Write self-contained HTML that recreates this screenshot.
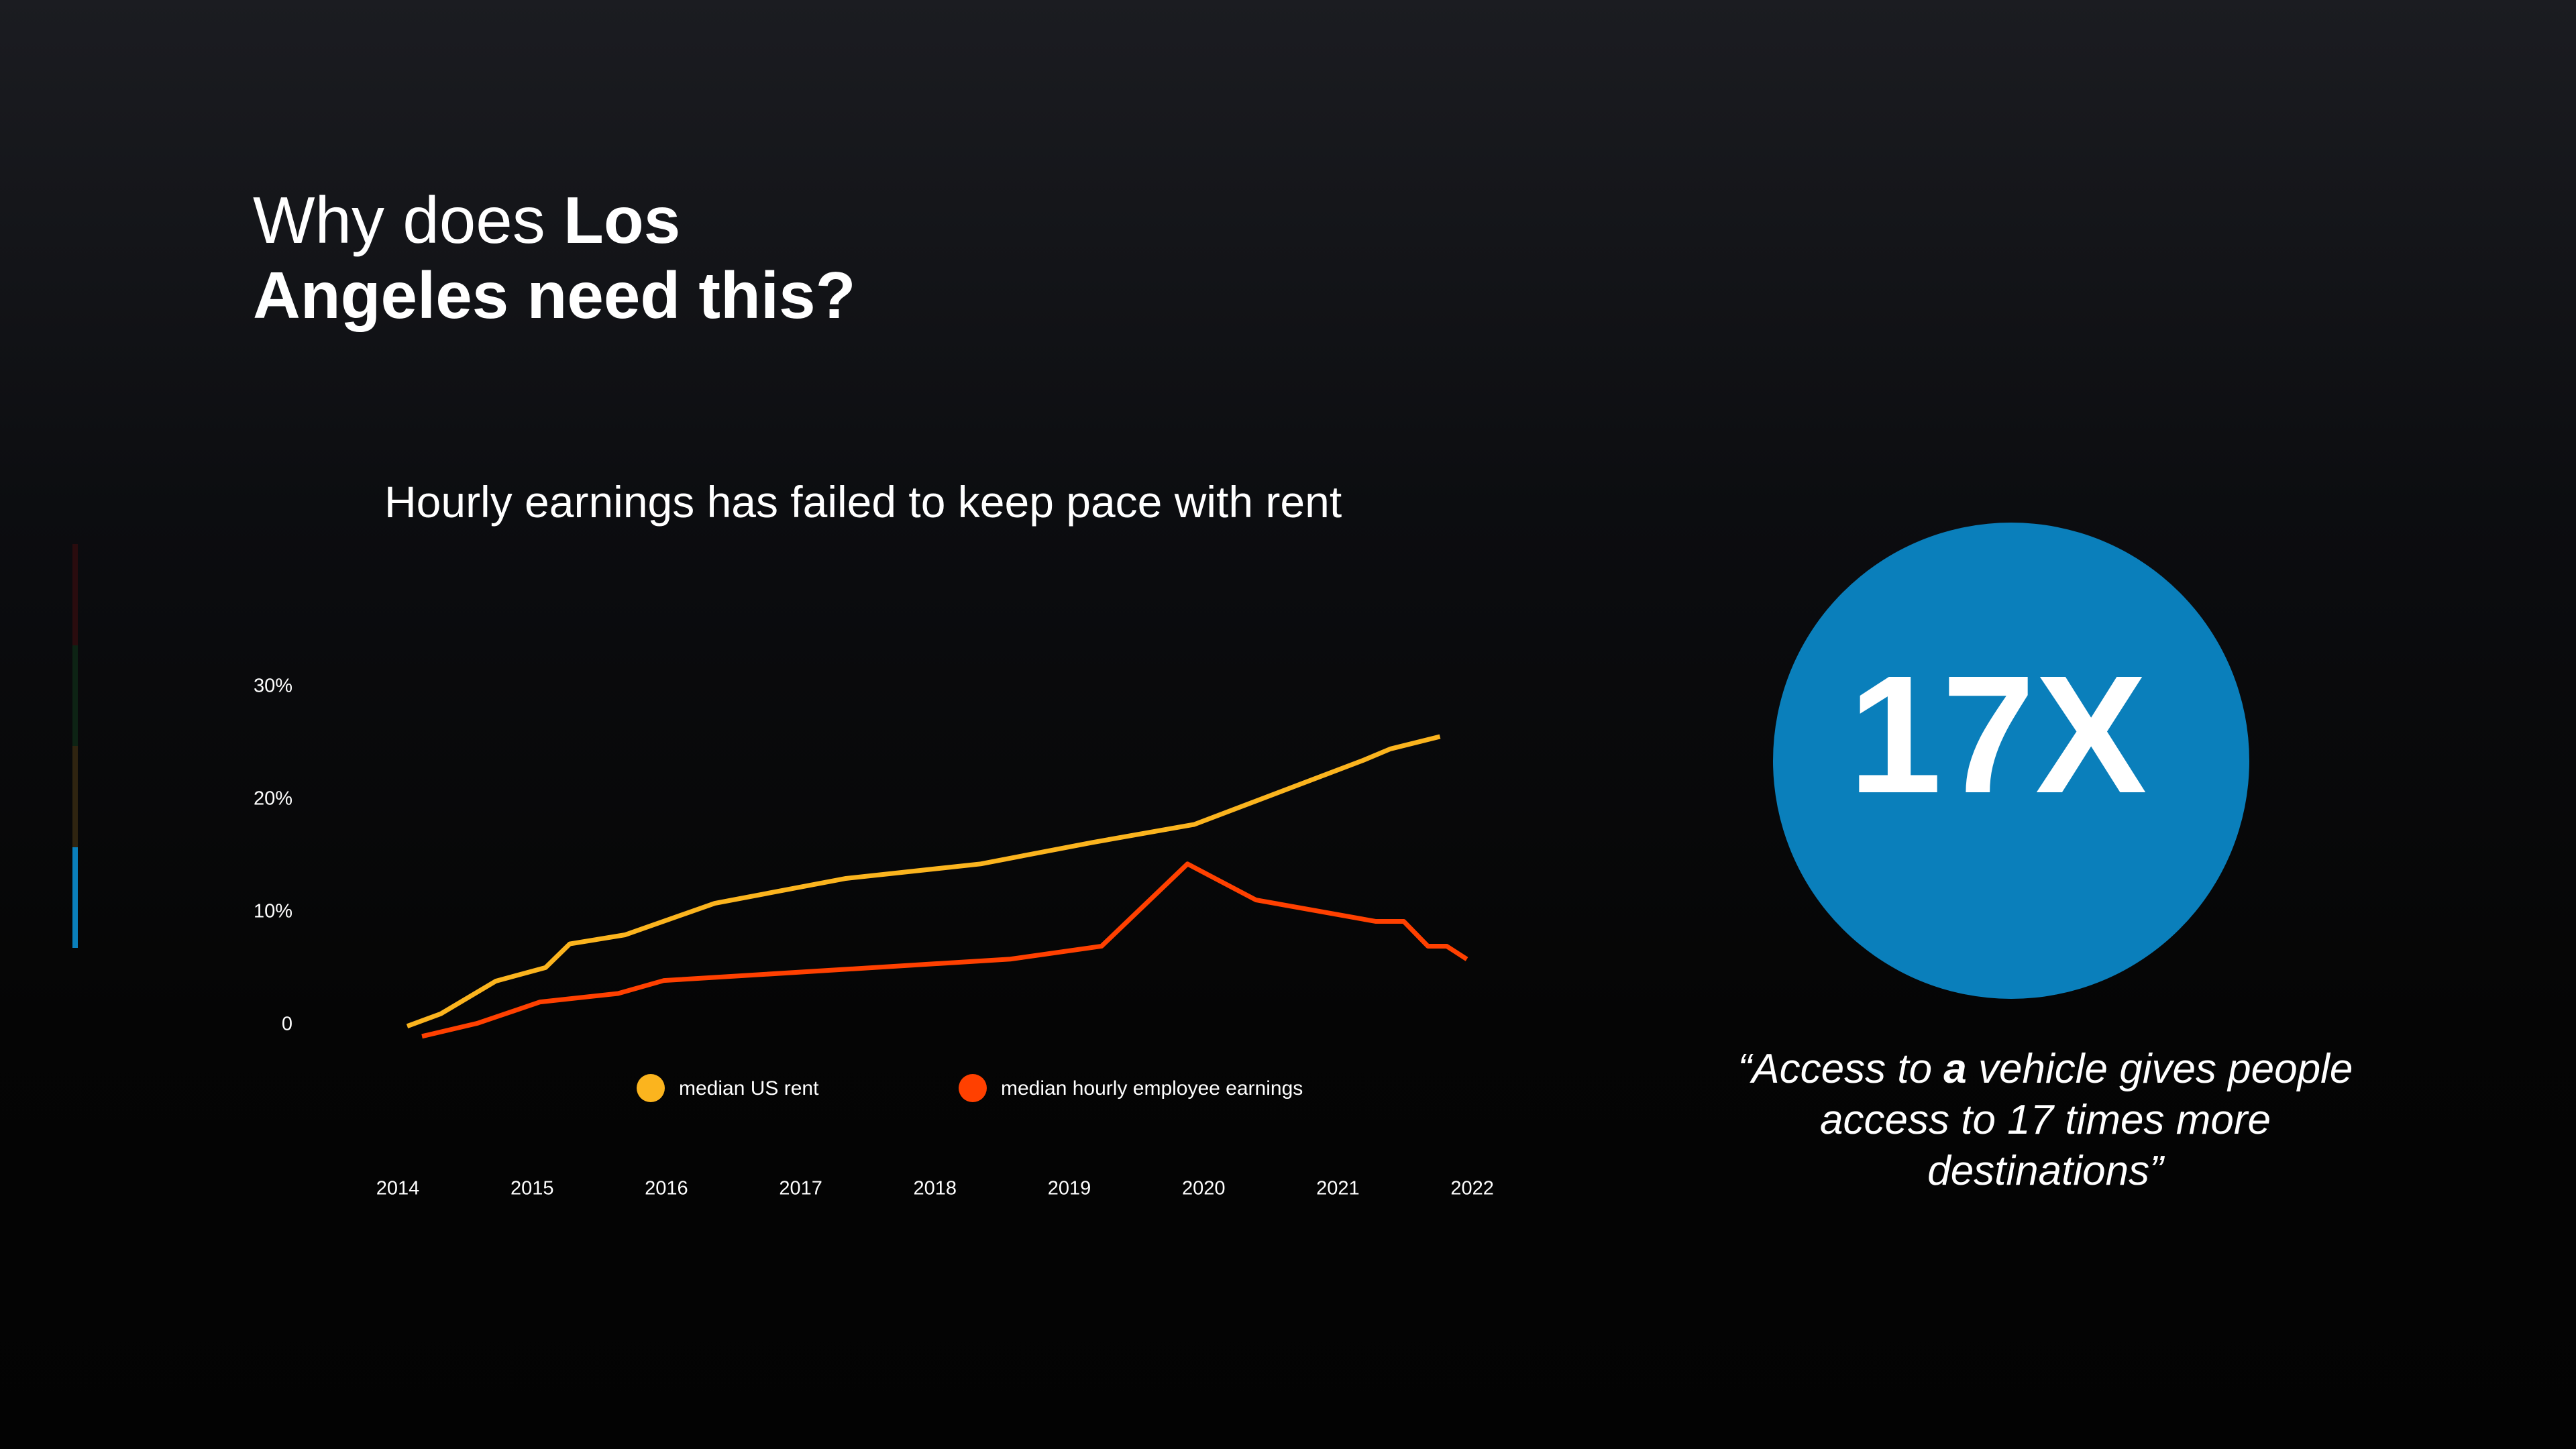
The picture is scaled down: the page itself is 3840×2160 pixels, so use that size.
<!DOCTYPE html>
<html><head><meta charset="utf-8"><style>
html,body{margin:0;padding:0}
body{width:3840px;height:2160px;overflow:hidden;background:linear-gradient(180deg,#1b1c21 0%,#0c0d10 35%,#050505 70%,#030303 100%);font-family:"Liberation Sans",sans-serif;color:#fff;position:relative}
.t{position:absolute;white-space:nowrap}
.b{font-weight:700}
</style></head><body>
<div class="t" style="left:377px;top:272px;font-size:98px;line-height:112px;font-weight:300">Why does <span class="b">Los</span><br><span class="b">Angeles need this?</span></div>
<div class="t" style="left:573px;top:710px;font-size:66px;font-weight:300">Hourly earnings has failed to keep pace with rent</div>
<div style="position:absolute;left:108px;top:811px;width:8px;height:602px">
<div style="height:25%;background:#2a0c0e"></div><div style="height:25%;background:#0d2314"></div><div style="height:25%;background:#2f2410"></div><div style="height:25%;background:#0a7fbb"></div></div>
<svg id="chart" width="3840" height="2160" style="position:absolute;left:0;top:0"></svg>
<div style="position:absolute;left:2643px;top:779px;width:710px;height:710px;border-radius:50%;background:#0a7fbb"></div>
<div class="t" style="left:2643px;width:670px;top:945px;text-align:center;font-size:250px;font-weight:bold;line-height:300px">17X</div>
<div class="t" style="left:2559px;width:980px;top:1556px;text-align:center;font-size:62px;line-height:76px;font-style:italic;font-weight:300;white-space:normal">“Access to <span class="b">a</span> vehicle gives people access to 17 times more destinations”</div>
<script>
const years=[2014,2015,2016,2017,2018,2019,2020,2021,2022];
const yTicks=[0,10,20,30];
const yTickLabels=["0","10%","20%","30%"];
const rentX=[2014.07,2014.32,2014.73,2015.10,2015.28,2015.69,2016.36,2017.33,2018.34,2019.17,2019.93,2021.19,2021.39,2021.76];
const rentY=[-0.4,0.7,3.6,4.8,6.9,7.7,10.5,12.7,14.0,15.9,17.5,23.2,24.2,25.3];
const earnX=[2014.18,2014.59,2015.06,2015.64,2015.98,2018.56,2019.24,2019.88,2020.39,2021.28,2021.49,2021.67,2021.81,2021.96];
const earnY=[-1.3,-0.15,1.75,2.5,3.65,5.55,6.7,14.0,10.8,8.9,8.9,6.7,6.7,5.55];
const NS="http://www.w3.org/2000/svg";
const svg=document.getElementById('chart');
const xs=y=>593+(y-2014)*200.2;
const ys=v=>1523-v*16.8;
function txt(x,y,s,anchor,name,fs){const t=document.createElementNS(NS,'text');t.setAttribute('x',x);t.setAttribute('y',y);t.setAttribute('fill','#fff');t.setAttribute('font-size',fs||'29');t.setAttribute('font-family','Liberation Sans, sans-serif');t.setAttribute('text-anchor',anchor);t.setAttribute('dominant-baseline','middle');t.textContent=s;


svg.appendChild(t);}
yTicks.forEach((v,i)=>txt(436,ys(v)+5,yTickLabels[i],'end','y-tick-label'));
years.forEach(y=>txt(xs(y),1773,String(y),'middle','x-tick-label'));
function line(X,Y,c,name){const p=document.createElementNS(NS,'polyline');p.setAttribute('points',X.map((x,i)=>xs(x)+','+ys(Y[i])).join(' '));p.setAttribute('fill','none');p.setAttribute('stroke',c);p.setAttribute('stroke-width','7');p.setAttribute('stroke-linejoin','round');


svg.appendChild(p);}
line(rentX,rentY,'#fbb41e','rent-line');
line(earnX,earnY,'#ff4000','earnings-line');
function leg(cx,c,s,name){const ci=document.createElementNS(NS,'circle');ci.setAttribute('cx',cx);ci.setAttribute('cy',1622);ci.setAttribute('r',21);ci.setAttribute('fill',c);


svg.appendChild(ci);txt(cx+42,1624,s,'start',name,'30');}
leg(970,'#fbb41e','median US rent','legend-rent');
leg(1450,'#ff4000','median hourly employee earnings','legend-earnings');
</script>
</body></html>
